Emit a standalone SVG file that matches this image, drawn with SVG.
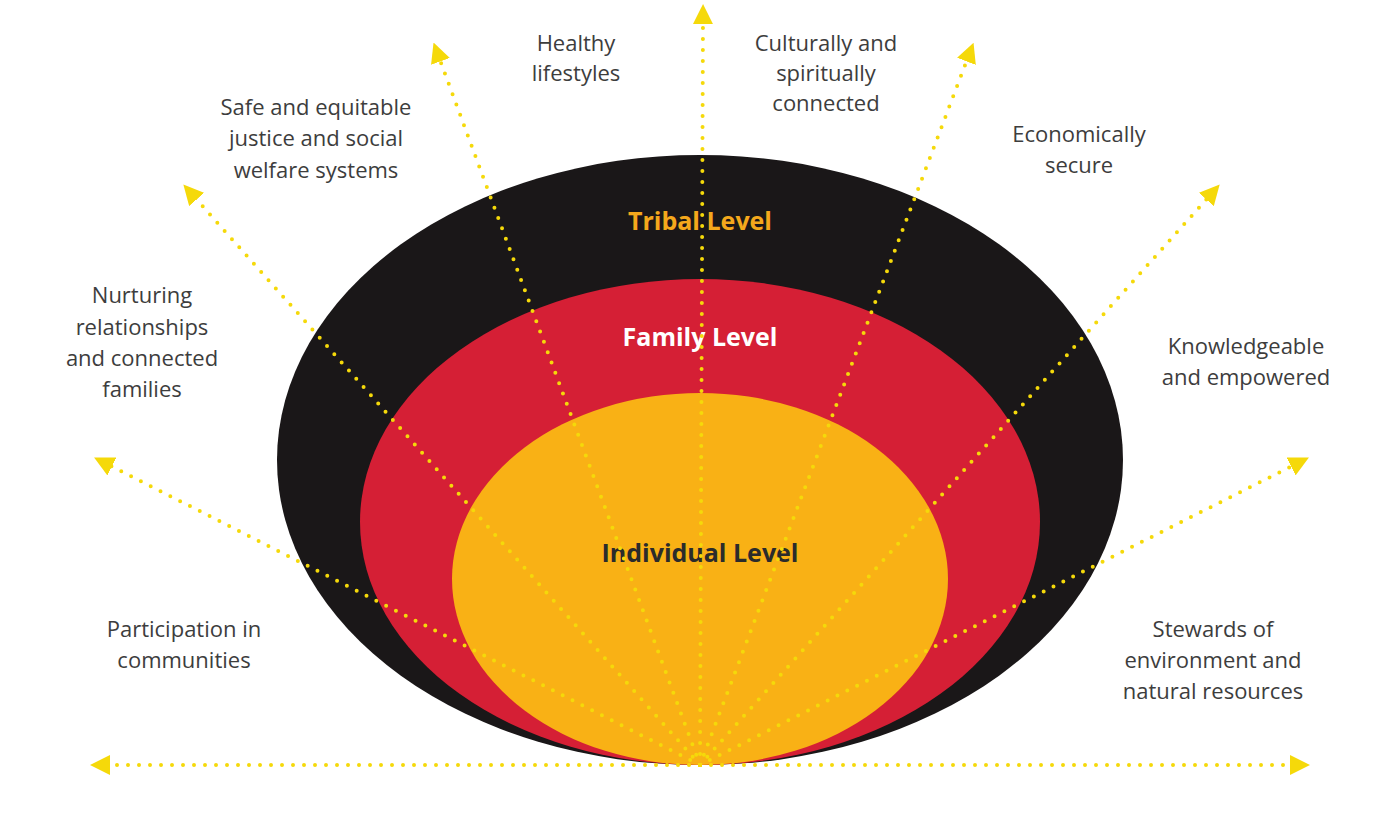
<svg xmlns="http://www.w3.org/2000/svg" width="1400" height="819" viewBox="0 0 1400 819">
<defs>
<marker id="ah" viewBox="0 0 10 10" refX="5" refY="5" markerWidth="5" markerHeight="5" markerUnits="strokeWidth" orient="auto"><path d="M0,0 L10,5 L0,10 z" fill="#f5d90a"/></marker>
<style>
.lbl{font-family:"Open Sans","Liberation Sans",sans-serif;font-size:22px;fill:#3d3d3d;text-anchor:middle}
.lvl{font-family:"Open Sans","Liberation Sans",sans-serif;font-size:25px;font-weight:bold;text-anchor:middle}
.ray{stroke:#f5d90a;stroke-width:4;stroke-linecap:round;stroke-dasharray:0 11;fill:none;marker-end:url(#ah)}
</style>
</defs>
<rect width="1400" height="819" fill="#fff"/>
<g id="tribal"><ellipse cx="700" cy="460" rx="423" ry="305" fill="#1a1718"/><text class="lvl" x="700" y="230" fill="#f5a81c">Tribal Level</text></g>
<g id="family"><ellipse cx="700" cy="522" rx="340" ry="243" fill="#d51f35"/><text class="lvl" x="700" y="346" fill="#fff">Family Level</text></g>
<g id="individual"><ellipse cx="700" cy="579" rx="248" ry="186" fill="#f9b115"/><text class="lvl" x="700" y="562" fill="#2b2b2b">Individual Level</text></g>
<g id="connectors">
<path class="ray" d="M700,765 L100,765"/>
<path class="ray" d="M700,765 L1300,765"/>
<path class="ray" d="M700,765 L103,462"/>
<path class="ray" d="M700,765 L190,192"/>
<path class="ray" d="M700,765 L437,52"/>
<path class="ray" d="M700,765 L703,14"/>
<path class="ray" d="M700,765 L970,52"/>
<path class="ray" d="M700,765 L1213,192"/>
<path class="ray" d="M700,765 L1300,462"/>
</g>
<g id="labels">
<text class="lbl" x="576" y="51">Healthy</text><text class="lbl" x="576" y="81">lifestyles</text>
<text class="lbl" x="826" y="51">Culturally and</text><text class="lbl" x="826" y="81">spiritually</text><text class="lbl" x="826" y="111">connected</text>
<text class="lbl" x="316" y="115">Safe and equitable</text><text class="lbl" x="316" y="146">justice and social</text><text class="lbl" x="316" y="178">welfare systems</text>
<text class="lbl" x="1079" y="142">Economically</text><text class="lbl" x="1079" y="173">secure</text>
<text class="lbl" x="142" y="303">Nurturing</text><text class="lbl" x="142" y="335">relationships</text><text class="lbl" x="142" y="366">and connected</text><text class="lbl" x="142" y="397">families</text>
<text class="lbl" x="1246" y="354">Knowledgeable</text><text class="lbl" x="1246" y="385">and empowered</text>
<text class="lbl" x="184" y="637">Participation in</text><text class="lbl" x="184" y="668">communities</text>
<text class="lbl" x="1213" y="637">Stewards of</text><text class="lbl" x="1213" y="668">environment and</text><text class="lbl" x="1213" y="699">natural resources</text>
</g>
</svg>
